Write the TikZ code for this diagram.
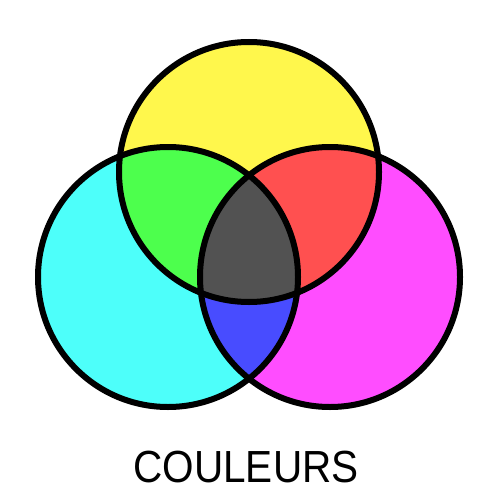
\documentclass[tikz,border=0pt]{standalone}
\usepackage{fontspec}
\setmainfont{Liberation Sans}
\definecolor{cy}{RGB}{77,255,250}
\definecolor{ye}{RGB}{255,247,76}
\definecolor{ma}{RGB}{255,77,255}
\definecolor{gr}{RGB}{77,255,77}
\definecolor{rd}{RGB}{255,80,80}
\definecolor{bl}{RGB}{72,76,255}
\definecolor{dk}{RGB}{82,82,82}
\begin{document}
\begin{tikzpicture}[x=1pt,y=-1pt,ring/.style={draw=black,line width=6pt}]
\useasboundingbox (0,0) rectangle (500,500);
\def\R{130}
\coordinate (Y) at (249,172);
\coordinate (C) at (168,277);
\coordinate (M) at (330,277);
\fill[cy] (C) circle (\R);
\fill[ma] (M) circle (\R);
\fill[ye] (Y) circle (\R);
\begin{scope}\clip (C) circle (\R); \fill[gr] (Y) circle (\R);\end{scope}
\begin{scope}\clip (M) circle (\R); \fill[rd] (Y) circle (\R);\end{scope}
\begin{scope}\clip (M) circle (\R); \fill[bl] (C) circle (\R);\end{scope}
\begin{scope}\clip (M) circle (\R); \clip (C) circle (\R); \fill[dk] (Y) circle (\R);\end{scope}
\draw[ring] (C) circle (\R);
\draw[ring] (M) circle (\R);
\draw[ring] (Y) circle (\R);
\node[anchor=base,inner sep=0pt,font=\fontsize{45}{50}\selectfont,xscale=0.9] (t) at (246,482) {COULEURS};
\end{tikzpicture}
\end{document}
